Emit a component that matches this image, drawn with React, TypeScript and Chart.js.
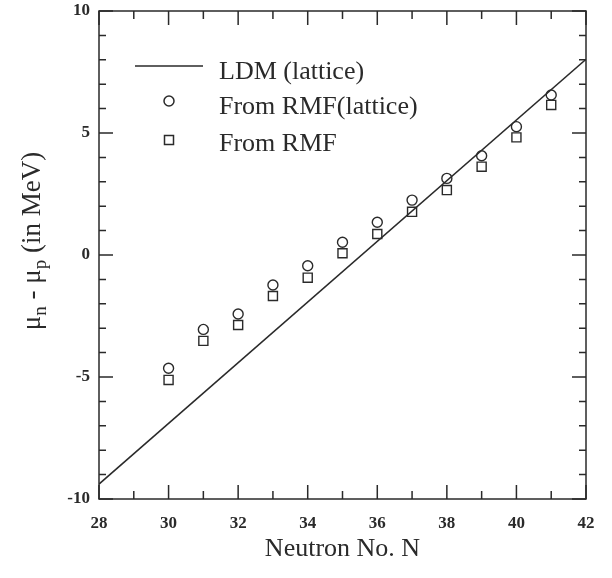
import React, { useEffect, useRef } from "react";
import { Chart, registerables } from "chart.js";

Chart.register(...registerables);

// ---- data ----
const ldmN = [28, 42];
const ldmValues = [-9.39, 8.02];

const rmfN = [30, 31, 32, 33, 34, 35, 36, 37, 38, 39, 40, 41];
const rmfLatticeValues = [-4.64, -3.05, -2.42, -1.23, -0.44, 0.52, 1.34, 2.25, 3.14, 4.07, 5.26, 6.56];
const rmfValues = [-5.12, -3.52, -2.87, -1.68, -0.93, 0.07, 0.86, 1.77, 2.66, 3.62, 4.82, 6.15];

const xTickLabels = [28, 30, 32, 34, 36, 38, 40, 42];
const yTickLabels = [-10, -5, 0, 5, 10];

const legendLabels = ["LDM (lattice)", "From RMF(lattice)", "From RMF"];
const xTitle = "Neutron No. N";

const INK = "#2a2a2a";
const SERIF = '"Liberation Serif", "Times New Roman", serif';

const framePlugin = {
  id: "framePlugin",
  afterDraw(chart: any) {
    const { ctx, chartArea: a, scales } = chart;
    const xs = scales.x;
    const ys = scales.y;
    ctx.save();
    ctx.strokeStyle = INK;
    ctx.lineWidth = 1.5;
    ctx.strokeRect(a.left, a.top, a.right - a.left, a.bottom - a.top);
    // x ticks
    for (let n = xs.min; n <= xs.max; n += 1) {
      const px = xs.getPixelForValue(n);
      const major = n % 2 === 0;
      const len = major ? 14 : 8;
      ctx.beginPath();
      ctx.moveTo(px, a.bottom);
      ctx.lineTo(px, a.bottom - len);
      ctx.moveTo(px, a.top);
      ctx.lineTo(px, a.top + len);
      ctx.stroke();
    }
    // y ticks
    for (let v = ys.min; v <= ys.max; v += 1) {
      const py = ys.getPixelForValue(v);
      const major = v % 5 === 0;
      const len = major ? 14 : 7;
      ctx.beginPath();
      ctx.moveTo(a.left, py);
      ctx.lineTo(a.left + len, py);
      ctx.moveTo(a.right, py);
      ctx.lineTo(a.right - len, py);
      ctx.stroke();
    }

    // y-axis title with subscripts
    ctx.fillStyle = INK;
    ctx.translate(32, 241);
    ctx.rotate(-Math.PI / 2);
    const big = `27px ${SERIF}`;
    const small = `19px ${SERIF}`;
    const parts: [string, string, number][] = [
      ["\u03bc", big, 0],
      ["n", small, 6],
      [" - \u03bc", big, 0],
      ["p", small, 6],
      [" (in MeV)", big, 0],
    ];
    let total = 0;
    for (const [t, f] of parts) {
      ctx.font = f;
      total += ctx.measureText(t).width;
    }
    let cx = -total / 2;
    ctx.textBaseline = "alphabetic";
    ctx.textAlign = "left";
    for (const [t, f, dy] of parts) {
      ctx.font = f;
      ctx.fillText(t, cx, 8 + dy);
      cx += ctx.measureText(t).width;
    }
    ctx.restore();

    // legend
    ctx.save();
    ctx.strokeStyle = INK;
    ctx.fillStyle = INK;
    ctx.lineWidth = 1.5;
    ctx.beginPath();
    ctx.moveTo(135, 66);
    ctx.lineTo(203, 66);
    ctx.stroke();
    ctx.beginPath();
    ctx.arc(169, 101, 5, 0, Math.PI * 2);
    ctx.stroke();
    ctx.strokeRect(164.5, 135.5, 9, 9);
    ctx.font = `26px ${SERIF}`;
    ctx.textBaseline = "alphabetic";
    ctx.textAlign = "left";
    ctx.fillText(legendLabels[0], 219, 79);
    ctx.fillText(legendLabels[1], 219, 114);
    ctx.fillText(legendLabels[2], 219, 151);
    ctx.restore();
  },
};

export default function App() {
  const ref = useRef<HTMLCanvasElement | null>(null);

  useEffect(() => {
    if (!ref.current) return;
    const chart = new Chart(ref.current, {
      type: "scatter",
      data: {
        datasets: [
          {
            type: "line",
            label: legendLabels[0],
            data: ldmN.map((n, i) => ({ x: n, y: ldmValues[i] })),
            borderColor: INK,
            borderWidth: 1.5,
            pointRadius: 0,
            fill: false,
          },
          {
            label: legendLabels[1],
            data: rmfN.map((n, i) => ({ x: n, y: rmfLatticeValues[i] })),
            pointStyle: "circle",
            pointRadius: 5,
            pointBorderWidth: 1.4,
            pointBorderColor: INK,
            pointBackgroundColor: "rgba(0,0,0,0)",
            showLine: false,
          },
          {
            label: legendLabels[2],
            data: rmfN.map((n, i) => ({ x: n, y: rmfValues[i] })),
            pointStyle: "rect",
            pointRadius: 6.4,
            pointBorderWidth: 1.4,
            pointBorderColor: INK,
            pointBackgroundColor: "rgba(0,0,0,0)",
            showLine: false,
          },
        ],
      },
      options: {
        responsive: false,
        animation: false,
        events: [],
        layout: { padding: { top: 11, right: 26, left: 0, bottom: 0 } },
        plugins: {
          legend: { display: false },
          tooltip: { enabled: false },
        },
        scales: {
          x: {
            type: "linear",
            min: 28,
            max: 42,
            afterFit: (s: any) => {
              s.height = 79;
              s.paddingLeft = 0;
              s.paddingRight = 0;
            },
            afterBuildTicks: (s: any) => {
              s.ticks = xTickLabels.map((v) => ({ value: v }));
            },
            grid: { display: false, drawTicks: false },
            border: { display: false },
            ticks: {
              padding: 14,
              color: INK,
              font: { family: SERIF, size: 17, weight: "bold" },
              maxRotation: 0,
            },
            title: {
              display: true,
              text: xTitle,
              color: INK,
              font: { family: SERIF, size: 26 },
              padding: { top: 0, bottom: 13 },
            },
          },
          y: {
            type: "linear",
            min: -10,
            max: 10,
            afterFit: (s: any) => {
              s.width = 99;
              s.paddingTop = 0;
              s.paddingBottom = 0;
            },
            afterBuildTicks: (s: any) => {
              s.ticks = yTickLabels.map((v) => ({ value: v }));
            },
            grid: { display: false, drawTicks: false },
            border: { display: false },
            ticks: {
              padding: 9,
              color: INK,
              font: { family: SERIF, size: 17, weight: "bold" },
            },
          },
        },
      },
      plugins: [framePlugin],
    });
    return () => chart.destroy();
  }, []);

  return (
    <div style={{ position: "absolute", left: 0, top: 0, width: 612, height: 578, background: "#fff" }}>
      <canvas ref={ref} width={612} height={578} style={{ display: "block" }} />
    </div>
  );
}
